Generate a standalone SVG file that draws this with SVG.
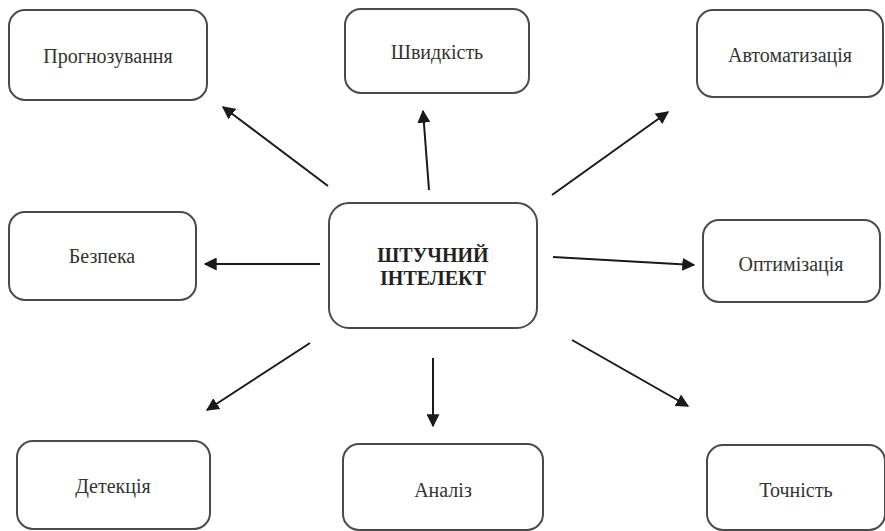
<svg xmlns="http://www.w3.org/2000/svg" width="885" height="531" viewBox="0 0 885 531">
<style>
.box{fill:#fff;stroke:#4a4a4a;stroke-width:2}
.lbl{font-size:20px;fill:#333;text-anchor:middle}
.main{font-size:20px;font-weight:bold;fill:#222;text-anchor:middle}
.con{stroke:#1a1a1a;stroke-width:2;fill:none;marker-end:url(#ah)}
</style>
<defs>
<marker id="ah" viewBox="0 0 10 10" refX="9" refY="5" markerWidth="6.5" markerHeight="6.5" orient="auto" markerUnits="strokeWidth">
<path d="M0,0 L10,5 L0,10 Z" fill="#1a1a1a"/>
</marker>
</defs>
<rect width="885" height="531" fill="#fff"/>
<g id="connectors">
<line class="con" x1="328" y1="186" x2="223" y2="107"/>
<line class="con" x1="429" y1="190" x2="423" y2="111"/>
<line class="con" x1="552" y1="195" x2="668" y2="112"/>
<line class="con" x1="320" y1="264" x2="205" y2="264"/>
<line class="con" x1="553" y1="257" x2="694" y2="265"/>
<line class="con" x1="310" y1="343" x2="207" y2="410"/>
<line class="con" x1="433" y1="358" x2="433" y2="426"/>
<line class="con" x1="572" y1="340" x2="688" y2="406"/>
</g>
<g font-family="Liberation Serif, serif">
<g id="center"><rect class="box" x="329" y="203" width="208" height="125" rx="20"/>
<text class="main" x="433" y="262">ШТУЧНИЙ</text><text class="main" x="433" y="285">ІНТЕЛЕКТ</text></g>
<g id="prognoz"><rect class="box" x="9" y="10" width="198" height="90" rx="16"/>
<text class="lbl" x="108" y="63">Прогнозування</text></g>
<g id="shvydkist"><rect class="box" x="345" y="9" width="184" height="84" rx="16"/>
<text class="lbl" x="437" y="59">Швидкість</text></g>
<g id="avtomat"><rect class="box" x="697" y="10" width="186" height="87" rx="16"/>
<text class="lbl" x="790" y="62">Автоматизація</text></g>
<g id="bezpeka"><rect class="box" x="9" y="212" width="187" height="88" rx="16"/>
<text class="lbl" x="102" y="263">Безпека</text></g>
<g id="optym"><rect class="box" x="703" y="220" width="177" height="82" rx="16"/>
<text class="lbl" x="791" y="271">Оптимізація</text></g>
<g id="detektsia"><rect class="box" x="17" y="441" width="193" height="88" rx="16"/>
<text class="lbl" x="113" y="493">Детекція</text></g>
<g id="analiz"><rect class="box" x="343" y="444" width="200" height="86" rx="16"/>
<text class="lbl" x="443" y="497">Аналіз</text></g>
<g id="tochnist"><rect class="box" x="707" y="445" width="178" height="85" rx="16"/>
<text class="lbl" x="796" y="497">Точність</text></g>
</g>
</svg>
